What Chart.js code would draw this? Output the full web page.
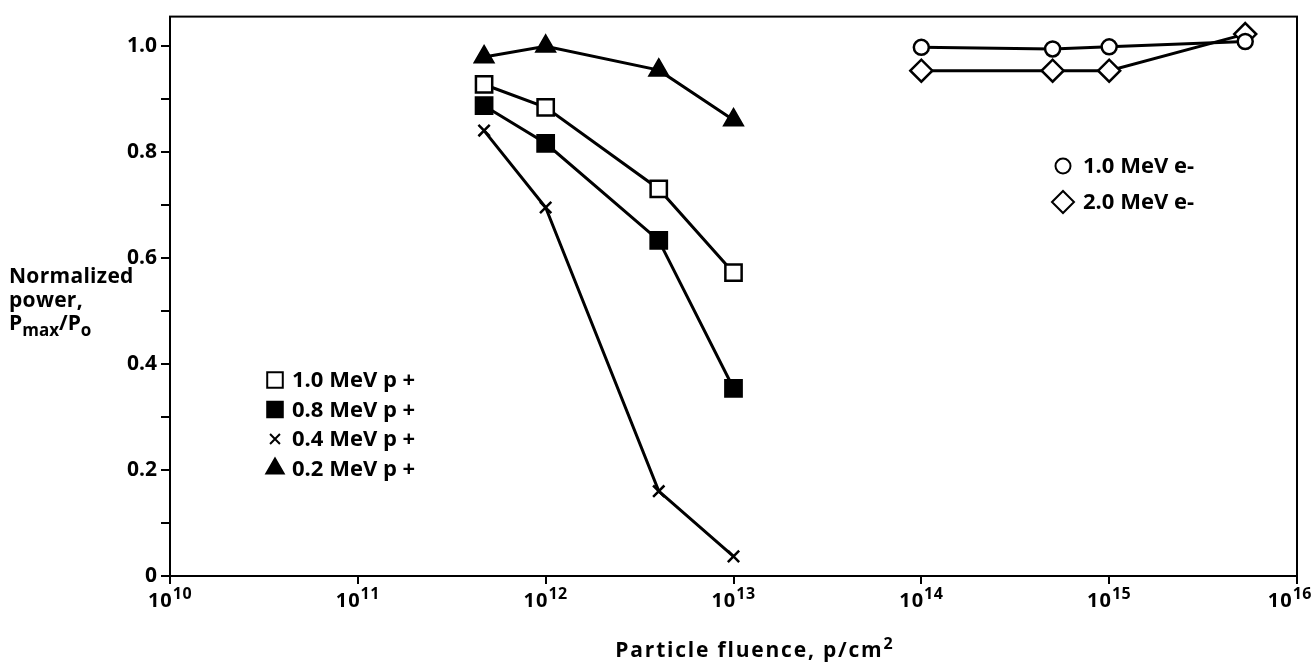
<!DOCTYPE html>
<html>
<head>
<meta charset="utf-8">
<script src="https://cdn.jsdelivr.net/npm/chart.js@4.4.1/dist/chart.umd.min.js"></script>
<style>
  html, body { margin: 0; padding: 0; background: #fff; }
  #wrap { width: 1314px; height: 665px; }
</style>
</head>
<body>
<div id="wrap"><canvas id="chart" width="1314" height="665"></canvas></div>
<script>
// fluence values (p/cm2 or e/cm2)
const fluenceProton = [4.7e11, 1e12, 4e12, 1e13];
const fluenceElectron = [1e14, 5e14, 1e15, 5.3e15];

// normalized power Pmax/Po
const p10 = [0.927, 0.884, 0.730, 0.572];
const p08 = [0.887, 0.816, 0.633, 0.354];
const p04 = [0.840, 0.695, 0.160, 0.037];
const p02 = [0.979, 0.999, 0.954, 0.860];
const e10 = [0.997, 0.994, 0.998, 1.008];
const e20 = [0.953, 0.953, 0.953, 1.022];

const xDecades = [1e10, 1e11, 1e12, 1e13, 1e14, 1e15, 1e16];

const FONT = '"Open Sans", "DejaVu Sans", sans-serif';

function pts(xs, ys) {
  return xs.map((x, i) => ({ x: x, y: ys[i] }));
}

function serie(label, xs, ys, style, radius, fill, group) {
  return {
    label: label,
    data: pts(xs, ys),
    showLine: true,
    borderColor: '#000',
    borderWidth: 3,
    pointStyle: style,
    pointRadius: radius,
    pointBackgroundColor: fill,
    pointBorderColor: '#000',
    pointBorderWidth: 2.5,
    group: group
  };
}

// legend boxes inside the plot (marker x, text x, first row y, row step)
const legendBoxes = {
  p: { mx: 275, tx: 292, y: 380, step: 29.5 },
  e: { mx: 1063, tx: 1083, y: 166, step: 36 }
};

// text with a raised / lowered smaller part, returns end x
function supText(ctx, parts, x, y) {
  parts.forEach(p => {
    ctx.font = 'bold ' + p.size + 'px ' + FONT;
    ctx.letterSpacing = (p.ls || 0) + 'px';
    ctx.fillText(p.t, x, y + (p.dy || 0));
    x += ctx.measureText(p.t).width;
  });
  ctx.letterSpacing = '0px';
  return x;
}
function partsWidth(ctx, parts) {
  let w = 0;
  parts.forEach(p => {
    ctx.font = 'bold ' + p.size + 'px ' + FONT;
    ctx.letterSpacing = (p.ls || 0) + 'px';
    w += ctx.measureText(p.t).width;
  });
  ctx.letterSpacing = '0px';
  return w;
}

const overlay = {
  id: 'overlay',
  afterDraw(chart) {
    const ctx = chart.ctx;
    const a = chart.chartArea;
    const xs = chart.scales.x;
    ctx.save();
    // frame
    ctx.strokeStyle = '#000';
    ctx.lineWidth = 2;
    ctx.strokeRect(a.left, a.top, a.right - a.left, a.bottom - a.top);

    ctx.fillStyle = '#000';
    ctx.textBaseline = 'alphabetic';
    ctx.textAlign = 'left';

    // x tick labels 10^n
    xDecades.forEach(v => {
      const px = xs.getPixelForValue(v);
      const exp = String(Math.round(Math.log10(v)));
      const parts = [{ t: '10', size: 20, ls: 1 }, { t: exp, size: 16, dy: -8, ls: 0.5 }];
      const w = partsWidth(ctx, parts);
      let x0 = px - w / 2;
      if (x0 + w > 1312) x0 = 1312 - w;
      supText(ctx, parts, x0, 607);
    });

    // x title
    const tparts = [{ t: 'Particle fluence, p/cm', size: 21, ls: 1.8 }, { t: '2', size: 16, dy: -8 }];
    const tw = partsWidth(ctx, tparts);
    supText(ctx, tparts, 754 - tw / 2, 657);

    // y title
    supText(ctx, [{ t: 'Normalized', size: 21, ls: 0.3 }], 9, 283);
    supText(ctx, [{ t: 'power,', size: 21, ls: 0.3 }], 9, 307);
    supText(ctx, [
      { t: 'P', size: 21 },
      { t: 'max', size: 17, dy: 6 },
      { t: '/P', size: 21 },
      { t: 'o', size: 17, dy: 6 }
    ], 9, 330);

    // legends
    const counters = { p: 0, e: 0 };
    chart.data.datasets.forEach(ds => {
      const box = legendBoxes[ds.group];
      const y = box.y + counters[ds.group] * box.step;
      counters[ds.group]++;
      ctx.fillStyle = ds.pointBackgroundColor;
      ctx.strokeStyle = '#000';
      ctx.lineWidth = 2;
      Chart.helpers.drawPoint(ctx, {
        pointStyle: ds.pointStyle,
        radius: ds.legendRadius,
        borderWidth: 2,
        rotation: 0
      }, box.mx, y);
      ctx.fillStyle = '#000';
      ctx.font = 'bold 22px ' + FONT;
      ctx.textAlign = 'left';
      ctx.textBaseline = 'middle';
      ctx.fillText(ds.label, box.tx, y + 1);
    });
    ctx.restore();
  }
};

const datasets = [
  serie('1.0 MeV p +', fluenceProton, p10, 'rect', 11.5, '#fff', 'p'),
  serie('0.8 MeV p +', fluenceProton, p08, 'rect', 11.5, '#000', 'p'),
  serie('0.4 MeV p +', fluenceProton, p04, 'crossRot', 8, '#000', 'p'),
  serie('0.2 MeV p +', fluenceProton, p02, 'triangle', 10.5, '#000', 'p'),
  serie('1.0 MeV e-', fluenceElectron, e10, 'circle', 7.5, '#fff', 'e'),
  serie('2.0 MeV e-', fluenceElectron, e20, 'rectRot', 11, '#fff', 'e')
];
const legendRadii = [11, 11, 7, 10, 7.5, 11];
datasets.forEach((d, i) => { d.legendRadius = legendRadii[i]; });

new Chart(document.getElementById('chart').getContext('2d'), {
  type: 'scatter',
  data: { datasets: datasets },
  options: {
    responsive: false,
    animation: false,
    layout: { padding: { left: 0, right: 17, top: 13, bottom: 0 } },
    plugins: {
      legend: { display: false },
      tooltip: { enabled: false }
    },
    scales: {
      x: {
        type: 'logarithmic',
        min: 1e10,
        max: 1e16,
        afterBuildTicks: s => { s.ticks = xDecades.map(v => ({ value: v })); },
        afterFit: s => { s.height = 89; },
        ticks: { callback: () => '', maxRotation: 0 },
        grid: { drawOnChartArea: false, drawTicks: true, tickLength: 8, color: '#000', lineWidth: 2 },
        border: { display: true, color: '#000', width: 2 }
      },
      y: {
        min: 0,
        max: 1.055,
        afterFit: s => { s.width = 170; },
        ticks: {
          stepSize: 0.1,
          includeBounds: false,
          padding: 4,
          color: '#000',
          font: { family: FONT, size: 21, weight: 'bold' },
          callback: v => {
            const k = Math.round(v * 10);
            if (k % 2) return '';
            return k === 0 ? '0' : (k / 10).toFixed(1);
          }
        },
        grid: { drawOnChartArea: false, drawTicks: true, tickLength: 9, color: '#000', lineWidth: 2 },
        border: { display: true, color: '#000', width: 2 }
      }
    }
  },
  plugins: [overlay]
});
</script>
</body>
</html>
